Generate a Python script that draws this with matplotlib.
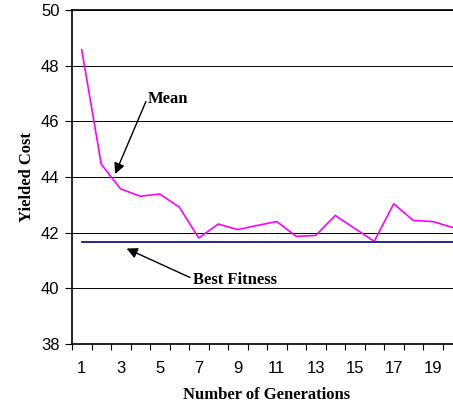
import numpy as np
import matplotlib.pyplot as plt

generations = np.arange(1, 21)
mean_cost = [48.57, 44.46, 43.57, 43.31, 43.39, 42.92, 41.81, 42.31, 42.11, 42.26,
             42.40, 41.87, 41.90, 42.62, 42.15, 41.69, 43.04, 42.44, 42.40, 42.19]
best_fitness = [41.67] * 20
y_ticks = [38, 40, 42, 44, 46, 48, 50]
x_labels = [str(g) for g in generations[::2]]

plt.rcParams['font.family'] = ['Liberation Sans', 'DejaVu Sans']

fig = plt.figure(figsize=(4.53, 4.08), dpi=100)
W, H = 453, 408
# axes runs past the right edge of the figure, as in the reference
ax = fig.add_axes([72 / W, 1 - 344 / H, 390 / W, 334 / H])

ax.plot(generations, mean_cost, color='#ff00ff', lw=1.2, zorder=3)
ax.plot(generations.tolist() + [20.6], best_fitness + [best_fitness[-1]],
        color='#000080', lw=1.2, zorder=3)

ax.set_xlim(0.5, 20.5)
ax.set_ylim(38, 50)
ax.set_yticks(y_ticks)
ax.set_xticks(np.arange(0.5, 21, 1))
ax.set_xticklabels([])
ax.set_xticks(generations[::2], minor=True)
ax.set_xticklabels(x_labels, minor=True)
ax.tick_params(axis='x', which='minor', length=0, pad=12, labelsize=12)
ax.tick_params(axis='x', which='major', length=4, width=0.8, direction='out')
ax.tick_params(axis='y', length=5, width=0.8, direction='out', labelsize=12, pad=4)

ax.yaxis.grid(True, color='black', lw=0.7)
for s in ['top', 'right']:
    ax.spines[s].set_visible(False)
ax.axhline(50, color='black', lw=1.2, clip_on=False)
ax.spines['left'].set_linewidth(1.2)
ax.spines['bottom'].set_linewidth(1.2)

serif = dict(family='Liberation Serif', fontweight='bold', fontsize=12)
ax.set_xlabel('Number of Generations', labelpad=8, **serif)
ax.set_ylabel('Yielded Cost', labelpad=4, **serif)

arrow = dict(arrowstyle='-|>', color='black', lw=1, mutation_scale=16, shrinkA=0, shrinkB=0)
ax.annotate('', xy=(2.71, 44.11), xytext=(4.29, 46.71), arrowprops=arrow)
ax.text(4.40, 46.82, 'Mean', ha='left', va='center', **serif)
ax.annotate('', xy=(3.3, 41.43), xytext=(6.55, 40.39), arrowprops=arrow)
ax.text(6.71, 40.29, 'Best Fitness', ha='left', va='center', **serif)

fig.savefig('out.png', dpi=100)
